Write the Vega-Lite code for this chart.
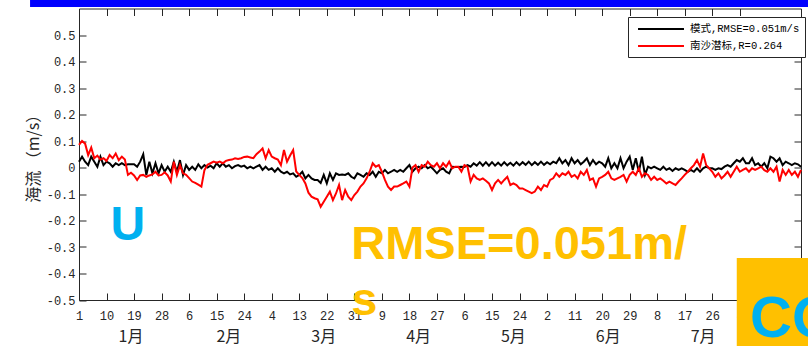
{
  "$schema": "https://vega.github.io/schema/vega-lite/v6.json",
  "width": 722,
  "height": 291.5,
  "autosize": {"type": "none"},
  "padding": {"left": 79, "top": 8.5, "right": 7, "bottom": 46},
  "background": "white",
  "config": {
    "view": {"stroke": "#262626", "strokeWidth": 1},
    "axis": {"grid": false, "domain": false, "tickColor": "#262626", "tickWidth": 1, "tickSize": -7, "labelColor": "#262626", "labelFont": "Liberation Mono", "labelFontSize": 11, "titleColor": "#262626"}
  },
  "data": {"values": [
    {"date":"2016-01-01","m":0.022,"o":0.085},{"date":"2016-01-02","m":0.041,"o":0.1},{"date":"2016-01-03","m":0.022,"o":0.09},{"date":"2016-01-04","m":0.009,"o":0.047},{"date":"2016-01-05","m":0.041,"o":0.075},{"date":"2016-01-06","m":0.022,"o":0.035},{"date":"2016-01-07","m":0.003,"o":0.045},{"date":"2016-01-08","m":0.041,"o":0.03},{"date":"2016-01-09","m":0.009,"o":0.035},{"date":"2016-01-10","m":0.022,"o":0.025},
    {"date":"2016-01-11","m":0.016,"o":0.047},{"date":"2016-01-12","m":0.003,"o":0.035},{"date":"2016-01-13","m":0.016,"o":0.053},{"date":"2016-01-14","m":0.009,"o":0.028},{"date":"2016-01-15","m":0.016,"o":0.041},{"date":"2016-01-16","m":0.009,"o":0.03},{"date":"2016-01-17","m":0.012,"o":-0.028},{"date":"2016-01-18","m":0.012,"o":-0.02},{"date":"2016-01-19","m":0.012,"o":-0.03},{"date":"2016-01-20","m":0.003,"o":-0.047},
    {"date":"2016-01-21","m":0.022,"o":-0.03},{"date":"2016-01-22","m":0.05,"o":-0.028},{"date":"2016-01-23","m":-0.028,"o":-0.035},{"date":"2016-01-24","m":0.022,"o":-0.03},{"date":"2016-01-25","m":-0.022,"o":-0.026},{"date":"2016-01-26","m":0.016,"o":-0.016},{"date":"2016-01-27","m":-0.022,"o":-0.03},{"date":"2016-01-28","m":0.009,"o":-0.028},{"date":"2016-01-29","m":-0.016,"o":-0.018},{"date":"2016-01-30","m":0.003,"o":-0.03},{"date":"2016-01-31","m":-0.016,"o":-0.053},
    {"date":"2016-02-01","m":0.022,"o":0.022},{"date":"2016-02-02","m":-0.016,"o":-0.028},{"date":"2016-02-03","m":0.028,"o":0.009},{"date":"2016-02-04","m":-0.028,"o":-0.022},{"date":"2016-02-05","m":0.009,"o":-0.028},{"date":"2016-02-06","m":-0.009,"o":-0.04},{"date":"2016-02-07","m":0.003,"o":-0.053},{"date":"2016-02-08","m":-0.009,"o":-0.058},{"date":"2016-02-09","m":0.012,"o":-0.065},{"date":"2016-02-10","m":-0.003,"o":-0.072},
    {"date":"2016-02-11","m":0.009,"o":-0.01},{"date":"2016-02-12","m":0.0,"o":0.01},{"date":"2016-02-13","m":0.007,"o":0.016},{"date":"2016-02-14","m":-0.003,"o":0.022},{"date":"2016-02-15","m":0.016,"o":0.018},{"date":"2016-02-16","m":0.003,"o":0.022},{"date":"2016-02-17","m":0.016,"o":0.016},{"date":"2016-02-18","m":0.003,"o":0.025},{"date":"2016-02-19","m":0.009,"o":0.028},{"date":"2016-02-20","m":-0.003,"o":0.03},
    {"date":"2016-02-21","m":0.005,"o":0.035},{"date":"2016-02-22","m":0.009,"o":0.032},{"date":"2016-02-23","m":0.003,"o":0.035},{"date":"2016-02-24","m":0.007,"o":0.04},{"date":"2016-02-25","m":-0.003,"o":0.041},{"date":"2016-02-26","m":0.003,"o":0.038},{"date":"2016-02-27","m":-0.003,"o":0.035},{"date":"2016-02-28","m":0.003,"o":0.05},{"date":"2016-02-29","m":0.009,"o":0.06},
    {"date":"2016-03-01","m":-0.009,"o":0.072},{"date":"2016-03-02","m":0.003,"o":0.035},{"date":"2016-03-03","m":-0.009,"o":0.066},{"date":"2016-03-04","m":-0.003,"o":0.041},{"date":"2016-03-05","m":-0.016,"o":0.035},{"date":"2016-03-06","m":-0.003,"o":0.03},{"date":"2016-03-07","m":-0.016,"o":0.009},{"date":"2016-03-08","m":-0.022,"o":0.066},{"date":"2016-03-09","m":-0.016,"o":0.022},{"date":"2016-03-10","m":-0.026,"o":0.045},
    {"date":"2016-03-11","m":-0.022,"o":0.066},{"date":"2016-03-12","m":-0.035,"o":-0.015},{"date":"2016-03-13","m":-0.028,"o":-0.028},{"date":"2016-03-14","m":-0.016,"o":-0.04},{"date":"2016-03-15","m":-0.041,"o":-0.06},{"date":"2016-03-16","m":-0.028,"o":-0.095},{"date":"2016-03-17","m":-0.041,"o":-0.11},{"date":"2016-03-18","m":-0.047,"o":-0.116},{"date":"2016-03-19","m":-0.047,"o":-0.12},{"date":"2016-03-20","m":-0.058,"o":-0.148},
    {"date":"2016-03-21","m":-0.028,"o":-0.129},{"date":"2016-03-22","m":-0.06,"o":-0.11},{"date":"2016-03-23","m":-0.022,"o":-0.091},{"date":"2016-03-24","m":-0.047,"o":-0.123},{"date":"2016-03-25","m":-0.022,"o":-0.098},{"date":"2016-03-26","m":-0.028,"o":-0.066},{"date":"2016-03-27","m":-0.026,"o":-0.123},{"date":"2016-03-28","m":-0.028,"o":-0.085},{"date":"2016-03-29","m":-0.022,"o":-0.11},{"date":"2016-03-30","m":-0.035,"o":-0.123},{"date":"2016-03-31","m":-0.041,"o":-0.104},
    {"date":"2016-04-01","m":-0.022,"o":-0.091},{"date":"2016-04-02","m":-0.028,"o":-0.072},{"date":"2016-04-03","m":-0.035,"o":-0.06},{"date":"2016-04-04","m":-0.022,"o":-0.041},{"date":"2016-04-05","m":-0.028,"o":-0.016},{"date":"2016-04-06","m":-0.016,"o":0.016},{"date":"2016-04-07","m":-0.035,"o":0.003},{"date":"2016-04-08","m":-0.016,"o":0.009},{"date":"2016-04-09","m":-0.022,"o":-0.016},{"date":"2016-04-10","m":-0.009,"o":-0.047},
    {"date":"2016-04-11","m":-0.022,"o":-0.072},{"date":"2016-04-12","m":-0.016,"o":-0.085},{"date":"2016-04-13","m":-0.009,"o":-0.072},{"date":"2016-04-14","m":-0.016,"o":-0.072},{"date":"2016-04-15","m":-0.009,"o":-0.066},{"date":"2016-04-16","m":-0.016,"o":-0.06},{"date":"2016-04-17","m":-0.003,"o":-0.053},{"date":"2016-04-18","m":0.009,"o":-0.072},{"date":"2016-04-19","m":-0.016,"o":0.0},{"date":"2016-04-20","m":-0.003,"o":0.009},
    {"date":"2016-04-21","m":0.003,"o":-0.016},{"date":"2016-04-22","m":-0.003,"o":0.009},{"date":"2016-04-23","m":0.009,"o":0.003},{"date":"2016-04-24","m":-0.003,"o":0.022},{"date":"2016-04-25","m":0.003,"o":0.009},{"date":"2016-04-26","m":-0.009,"o":0.003},{"date":"2016-04-27","m":-0.022,"o":0.016},{"date":"2016-04-28","m":-0.009,"o":-0.003},{"date":"2016-04-29","m":-0.003,"o":0.016},{"date":"2016-04-30","m":-0.016,"o":0.003},
    {"date":"2016-05-01","m":-0.022,"o":0.022},{"date":"2016-05-02","m":0.003,"o":-0.003},{"date":"2016-05-03","m":0.002,"o":0.003},{"date":"2016-05-04","m":0.002,"o":0.003},{"date":"2016-05-05","m":0.003,"o":-0.016},{"date":"2016-05-06","m":0.002,"o":0.009},{"date":"2016-05-07","m":0.009,"o":0.003},{"date":"2016-05-08","m":0.003,"o":-0.053},{"date":"2016-05-09","m":0.016,"o":-0.028},{"date":"2016-05-10","m":0.007,"o":-0.041},
    {"date":"2016-05-11","m":0.02,"o":-0.047},{"date":"2016-05-12","m":0.007,"o":-0.041},{"date":"2016-05-13","m":0.02,"o":-0.05},{"date":"2016-05-14","m":0.007,"o":-0.06},{"date":"2016-05-15","m":0.02,"o":-0.085},{"date":"2016-05-16","m":0.007,"o":-0.06},{"date":"2016-05-17","m":0.018,"o":-0.047},{"date":"2016-05-18","m":0.007,"o":-0.06},{"date":"2016-05-19","m":0.02,"o":-0.047},{"date":"2016-05-20","m":0.008,"o":-0.035},
    {"date":"2016-05-21","m":0.018,"o":-0.066},{"date":"2016-05-22","m":0.007,"o":-0.06},{"date":"2016-05-23","m":0.02,"o":-0.066},{"date":"2016-05-24","m":0.009,"o":-0.079},{"date":"2016-05-25","m":0.02,"o":-0.079},{"date":"2016-05-26","m":0.01,"o":-0.085},{"date":"2016-05-27","m":0.022,"o":-0.091},{"date":"2016-05-28","m":0.009,"o":-0.097},{"date":"2016-05-29","m":0.02,"o":-0.091},{"date":"2016-05-30","m":0.01,"o":-0.072},{"date":"2016-05-31","m":0.022,"o":-0.085},
    {"date":"2016-06-01","m":0.01,"o":-0.066},{"date":"2016-06-02","m":0.02,"o":-0.072},{"date":"2016-06-03","m":0.012,"o":-0.047},{"date":"2016-06-04","m":0.022,"o":-0.041},{"date":"2016-06-05","m":0.016,"o":-0.022},{"date":"2016-06-06","m":0.035,"o":-0.035},{"date":"2016-06-07","m":0.016,"o":-0.022},{"date":"2016-06-08","m":0.028,"o":-0.028},{"date":"2016-06-09","m":0.009,"o":-0.016},{"date":"2016-06-10","m":0.035,"o":-0.035},
    {"date":"2016-06-11","m":0.016,"o":-0.028},{"date":"2016-06-12","m":0.028,"o":-0.041},{"date":"2016-06-13","m":0.012,"o":-0.016},{"date":"2016-06-14","m":0.022,"o":-0.028},{"date":"2016-06-15","m":0.035,"o":-0.009},{"date":"2016-06-16","m":0.009,"o":-0.047},{"date":"2016-06-17","m":0.028,"o":-0.041},{"date":"2016-06-18","m":0.012,"o":-0.072},{"date":"2016-06-19","m":0.022,"o":-0.041},{"date":"2016-06-20","m":0.016,"o":-0.035},
    {"date":"2016-06-21","m":0.003,"o":-0.028},{"date":"2016-06-22","m":0.035,"o":-0.016},{"date":"2016-06-23","m":-0.003,"o":-0.041},{"date":"2016-06-24","m":0.016,"o":-0.047},{"date":"2016-06-25","m":-0.003,"o":-0.041},{"date":"2016-06-26","m":0.035,"o":-0.035},{"date":"2016-06-27","m":-0.003,"o":-0.028},{"date":"2016-06-28","m":0.022,"o":-0.053},{"date":"2016-06-29","m":0.041,"o":-0.028},{"date":"2016-06-30","m":-0.009,"o":-0.016},
    {"date":"2016-07-01","m":0.035,"o":-0.028},{"date":"2016-07-02","m":-0.016,"o":-0.003},{"date":"2016-07-03","m":0.041,"o":-0.035},{"date":"2016-07-04","m":-0.028,"o":-0.022},{"date":"2016-07-05","m":0.003,"o":-0.028},{"date":"2016-07-06","m":-0.003,"o":-0.047},{"date":"2016-07-07","m":0.003,"o":-0.035},{"date":"2016-07-08","m":-0.003,"o":-0.047},{"date":"2016-07-09","m":-0.009,"o":-0.041},{"date":"2016-07-10","m":0.003,"o":-0.05},
    {"date":"2016-07-11","m":-0.009,"o":-0.06},{"date":"2016-07-12","m":-0.003,"o":-0.053},{"date":"2016-07-13","m":-0.013,"o":-0.06},{"date":"2016-07-14","m":-0.003,"o":-0.066},{"date":"2016-07-15","m":-0.009,"o":-0.053},{"date":"2016-07-16","m":-0.003,"o":-0.041},{"date":"2016-07-17","m":-0.009,"o":-0.028},{"date":"2016-07-18","m":-0.016,"o":-0.016},{"date":"2016-07-19","m":-0.009,"o":-0.003},{"date":"2016-07-20","m":-0.016,"o":0.009},
    {"date":"2016-07-21","m":-0.003,"o":0.028},{"date":"2016-07-22","m":-0.016,"o":0.003},{"date":"2016-07-23","m":-0.003,"o":0.053},{"date":"2016-07-24","m":0.003,"o":0.009},{"date":"2016-07-25","m":-0.003,"o":-0.003},{"date":"2016-07-26","m":-0.003,"o":-0.016},{"date":"2016-07-27","m":-0.009,"o":-0.035},{"date":"2016-07-28","m":-0.003,"o":-0.022},{"date":"2016-07-29","m":-0.006,"o":-0.041},{"date":"2016-07-30","m":0.003,"o":-0.03},{"date":"2016-07-31","m":0.009,"o":-0.016},
    {"date":"2016-08-01","m":0.003,"o":-0.035},{"date":"2016-08-02","m":0.016,"o":-0.016},{"date":"2016-08-03","m":0.028,"o":0.003},{"date":"2016-08-04","m":0.022,"o":-0.016},{"date":"2016-08-05","m":0.035,"o":-0.009},{"date":"2016-08-06","m":0.016,"o":-0.003},{"date":"2016-08-07","m":0.016,"o":-0.016},{"date":"2016-08-08","m":0.035,"o":-0.003},{"date":"2016-08-09","m":0.009,"o":-0.009},{"date":"2016-08-10","m":0.016,"o":-0.003},
    {"date":"2016-08-11","m":0.003,"o":0.003},{"date":"2016-08-12","m":0.016,"o":-0.01},{"date":"2016-08-13","m":-0.003,"o":-0.016},{"date":"2016-08-14","m":0.041,"o":-0.003},{"date":"2016-08-15","m":0.035,"o":-0.016},{"date":"2016-08-16","m":0.022,"o":0.003},{"date":"2016-08-17","m":0.035,"o":-0.053},{"date":"2016-08-18","m":0.009,"o":-0.009},{"date":"2016-08-19","m":0.022,"o":-0.028},{"date":"2016-08-20","m":0.016,"o":-0.009},
    {"date":"2016-08-21","m":0.009,"o":-0.028},{"date":"2016-08-22","m":0.016,"o":-0.016},{"date":"2016-08-23","m":0.012,"o":-0.035},{"date":"2016-08-24","m":0.003,"o":-0.009}
  ]},
  "resolve": {"axis": {"x": "independent", "y": "independent"}},
  "layer": [
    {
      "transform": [{"fold": ["m", "o"], "as": ["series", "value"]}],
      "mark": {"type": "line", "strokeWidth": 2},
      "encoding": {
        "x": {"field": "date", "type": "temporal",
          "scale": {"type": "utc", "domain": [{"year": 2016, "month": 1, "date": 1, "utc": true}, {"year": 2016, "month": 8, "date": 24, "utc": true}], "nice": false},
          "axis": {"orient": "bottom", "title": null, "values": [1451606400000,1452384000000,1453161600000,1453939200000,1454716800000,1455494400000,1456272000000,1457049600000,1457827200000,1458604800000,1459382400000,1460160000000,1460937600000,1461715200000,1462492800000,1463270400000,1464048000000,1464825600000,1465603200000,1466380800000,1467158400000,1467936000000,1468713600000,1469491200000,1470268800000],
            "labelExpr": "utcFormat(datum.value, '%-d')", "labelPadding": 17, "labelFontSize": 12, "labelFlush": false, "labelOverlap": false}},
        "y": {"field": "value", "type": "quantitative",
          "scale": {"domain": [-0.5, 0.6], "nice": false, "zero": false},
          "axis": {"orient": "left", "values": [-0.5,-0.4,-0.3,-0.2,-0.1,0,0.1,0.2,0.3,0.4,0.5],
            "labelExpr": "datum.value == 0 ? '0' : (datum.value < 0 ? '-' + format(-datum.value, '.1f') : format(datum.value, '.1f'))",
            "labelPadding": 11, "labelFontSize": 12, "title": "海流 （m/s）", "titleFont": "Noto Sans CJK SC", "titleFontSize": 16, "titleFontWeight": "normal", "titlePadding": 5}},
        "color": {"field": "series", "type": "nominal",
          "scale": {"domain": ["m", "o"], "range": ["#000000", "#ff0000"]},
          "legend": {"orient": "none", "legendX": 549, "legendY": 8.5, "title": null, "symbolType": "M-4,0H4", "symbolSize": 132, "symbolStrokeWidth": 2,
            "labelFont": "Liberation Mono, Noto Sans CJK SC", "labelFontSize": 10.5, "labelColor": "#000000", "labelLimit": 300,
            "labelExpr": "datum.label == 'm' ? '模式,RMSE=0.051m/s' : '南沙潜标,R=0.264'",
            "fillColor": "white", "strokeColor": "#262626", "padding": 5, "rowPadding": 4, "labelOffset": 22, "symbolOffset": 21}}
      }
    },
    {
      "mark": {"type": "line", "opacity": 0},
      "encoding": {
        "x": {"field": "date", "type": "temporal",
          "axis": {"orient": "top", "title": null, "labels": false, "values": [1451606400000,1452384000000,1453161600000,1453939200000,1454716800000,1455494400000,1456272000000,1457049600000,1457827200000,1458604800000,1459382400000,1460160000000,1460937600000,1461715200000,1462492800000,1463270400000,1464048000000,1464825600000,1465603200000,1466380800000,1467158400000,1467936000000,1468713600000,1469491200000,1470268800000]}},
        "y": {"field": "m", "type": "quantitative",
          "axis": {"orient": "right", "title": null, "labels": false, "values": [-0.5,-0.4,-0.3,-0.2,-0.1,0,0.1,0.2,0.3,0.4,0.5]}}
      }
    },
    {
      "data": {"values": [
        {"month": "1月", "date": "2016-01-18"}, {"month": "2月", "date": "2016-02-19"}, {"month": "3月", "date": "2016-03-21"},
        {"month": "4月", "date": "2016-04-21"}, {"month": "5月", "date": "2016-05-22"}, {"month": "6月", "date": "2016-06-22"}, {"month": "7月", "date": "2016-07-23"}
      ]},
      "mark": {"type": "text", "font": "Noto Sans CJK SC", "fontSize": 16, "color": "#262626", "baseline": "middle", "align": "center", "dy": 37},
      "encoding": {
        "x": {"field": "date", "type": "temporal", "axis": null},
        "y": {"datum": -0.5, "type": "quantitative", "axis": null},
        "text": {"field": "month"}
      }
    },
    {
      "data": {"values": [
        {"item": "header", "start": "2015-12-16", "end": "2016-08-28", "low": 0.6057, "high": 0.65},
        {"item": "box", "start": "2016-08-03", "end": "2016-08-28", "low": -0.7, "high": -0.3415}
      ]},
      "mark": {"type": "rect"},
      "encoding": {
        "x": {"field": "start", "type": "temporal", "axis": null},
        "x2": {"field": "end"},
        "y": {"field": "low", "type": "quantitative", "axis": null},
        "y2": {"field": "high"},
        "fill": {"field": "item", "type": "nominal", "scale": {"domain": ["header", "box"], "range": ["#0000ff", "#ffc000"]}, "legend": null}
      }
    },
    {
      "data": {"values": [{"label": "U", "date": "2016-01-17", "value": -0.2736}]},
      "mark": {"type": "text", "font": "Liberation Sans", "fontWeight": "bold", "fontSize": 48, "color": "#00b0f0", "align": "center", "baseline": "alphabetic"},
      "encoding": {
        "x": {"field": "date", "type": "temporal", "axis": null},
        "y": {"field": "value", "type": "quantitative", "axis": null},
        "text": {"field": "label"}
      }
    },
    {
      "data": {"values": [{"label": "RMSE=0.051m/", "date": "2016-03-30", "value": -0.3453}, {"label": "s", "date": "2016-03-30", "value": -0.5566}]},
      "mark": {"type": "text", "font": "Liberation Sans", "fontWeight": "bold", "fontSize": 47, "color": "#ffc000", "align": "left", "baseline": "alphabetic"},
      "encoding": {
        "x": {"field": "date", "type": "temporal", "axis": null},
        "y": {"field": "value", "type": "quantitative", "axis": null},
        "text": {"field": "label"}
      }
    },
    {
      "data": {"values": [{"label": "CO", "date": "2016-08-07", "value": -0.6396}]},
      "mark": {"type": "text", "font": "Liberation Sans", "fontWeight": "bold", "fontSize": 58, "color": "#00b0f0", "align": "left", "baseline": "alphabetic", "dx": 1},
      "encoding": {
        "x": {"field": "date", "type": "temporal", "axis": null},
        "y": {"field": "value", "type": "quantitative", "axis": null},
        "text": {"field": "label"}
      }
    }
  ]
}
